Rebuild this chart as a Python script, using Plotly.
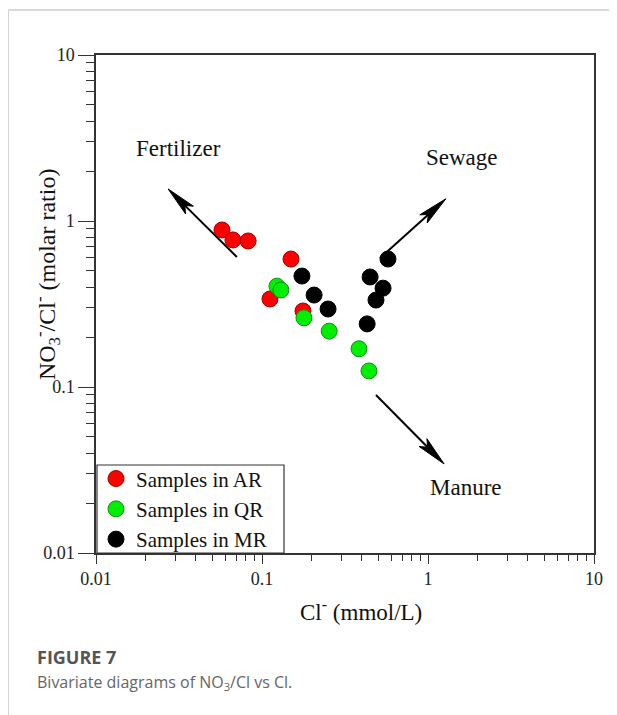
import math
import plotly.graph_objects as go

# ---- data ----
ar_cl = [0.0574, 0.0668, 0.0825, 0.1495, 0.1117, 0.1766]
ar_ratio = [0.883, 0.769, 0.758, 0.590, 0.339, 0.287]

qr_cl = [0.123, 0.130, 0.179, 0.254, 0.384, 0.441]
qr_ratio = [0.405, 0.384, 0.261, 0.217, 0.170, 0.125]

mr_cl = [0.174, 0.206, 0.250, 0.448, 0.536, 0.486, 0.430, 0.574]
mr_ratio = [0.466, 0.358, 0.295, 0.460, 0.394, 0.334, 0.240, 0.590]

major_ticks = [0.01, 0.1, 1, 10]
major_labels = ["0.01", "0.1", "1", "10"]
minor_ticks = [m * d for d in (0.01, 0.1, 1) for m in range(2, 10)]

# source arrows (data units)
arrow_names = ["Fertilizer", "Sewage", "Manure"]
arrow_tail_x = [0.0706, 0.514, 0.486]
arrow_tail_y = [0.607, 0.598, 0.0895]
arrow_head_x = [0.0272, 1.28, 1.25]
arrow_head_y = [1.56, 1.36, 0.0344]
label_x = [0.0312, 1.60, 1.69]
label_y = [2.72, 2.40, 0.0247]

SERIF = "Liberation Serif, Times New Roman, serif"
SANS = "Open Sans, Noto Sans, sans-serif"
PX_PER_DECADE = 166.0
HEAD_LEN = 30.0 / PX_PER_DECADE
HEAD_HALF = 5.5 / PX_PER_DECADE

fig = go.Figure()

# arrows (line + stealth head), built from the arrow lists
for tx, ty, hx, hy in zip(arrow_tail_x, arrow_tail_y, arrow_head_x, arrow_head_y):
    ltx, lty, lhx, lhy = map(math.log10, (tx, ty, hx, hy))
    dx, dy = lhx - ltx, lhy - lty
    n = math.hypot(dx, dy)
    ux, uy = dx / n, dy / n
    nx, ny = -uy, ux
    bx, by = lhx - HEAD_LEN * ux, lhy - HEAD_LEN * uy
    kx, ky = lhx - 0.78 * HEAD_LEN * ux, lhy - 0.78 * HEAD_LEN * uy
    fig.add_trace(go.Scatter(
        x=[10 ** ltx, 10 ** kx], y=[10 ** lty, 10 ** ky], mode="lines",
        line=dict(color="#000", width=2), showlegend=False, hoverinfo="skip",
    ))
    px = [lhx, bx + HEAD_HALF * nx, kx, bx - HEAD_HALF * nx, lhx]
    py = [lhy, by + HEAD_HALF * ny, ky, by - HEAD_HALF * ny, lhy]
    fig.add_trace(go.Scatter(
        x=[10 ** v for v in px], y=[10 ** v for v in py], mode="lines",
        fill="toself", fillcolor="#000", line=dict(color="#000", width=1),
        showlegend=False, hoverinfo="skip",
    ))

series = [
    ("Samples in AR", ar_cl, ar_ratio, "#ff0000", "#a00000"),
    ("Samples in QR", qr_cl, qr_ratio, "#00ee00", "#1a8a1a"),
    ("Samples in MR", mr_cl, mr_ratio, "#000000", "#000000"),
]
for name, xs, ys, fill, edge in series:
    fig.add_trace(go.Scatter(
        x=xs, y=ys, mode="markers", name=name,
        marker=dict(size=16, color=fill, line=dict(color=edge, width=1)),
    ))

annotations = []
for nm, lx, ly in zip(arrow_names, label_x, label_y):
    annotations.append(dict(
        x=math.log10(lx), y=math.log10(ly), xref="x", yref="y",
        xanchor="center", yanchor="middle",
        text=nm, showarrow=False, font=dict(family=SERIF, size=23, color="#111"),
    ))

# axis titles
annotations.append(dict(
    x=0.532, y=-0.1145, xref="paper", yref="paper", showarrow=False,
    xanchor="center", yanchor="middle",
    text="Cl<sup>-</sup> (mmol/L)", font=dict(family=SERIF, size=23, color="#111"),
))
annotations.append(dict(
    x=-0.0984, y=0.56, xref="paper", yref="paper", showarrow=False, textangle=-90,
    xanchor="center", yanchor="middle",
    text="NO<sub>3</sub><sup>-</sup>/Cl<sup>-</sup> (molar ratio)",
    font=dict(family=SERIF, size=24, color="#111"),
))
# caption
annotations.append(dict(
    x=-0.1225, y=-0.2088, xref="paper", yref="paper", showarrow=False,
    xanchor="left", yanchor="middle", text="<b>FIGURE 7</b>",
    font=dict(family=SANS, size=18, color="#555555"),
))
annotations.append(dict(
    x=-0.1225, y=-0.2610, xref="paper", yref="paper", showarrow=False,
    xanchor="left", yanchor="middle",
    text="Bivariate diagrams of NO<sub>3</sub>/Cl vs Cl.",
    font=dict(family=SANS, size=16, color="#666666"),
))

def axis(major_len, minor_len):
    return dict(
        type="log", range=[-2, 1], showgrid=False, zeroline=False,
        showline=True, linecolor="#333", linewidth=1.5, mirror=True,
        ticks="outside", ticklen=major_len, tickwidth=1.3, tickcolor="#333",
        tickvals=major_ticks, ticktext=major_labels,
        tickfont=dict(family=SERIF, size=18, color="#222"),
        minor=dict(tickvals=minor_ticks, ticks="outside", ticklen=minor_len,
                   tickwidth=1.2, tickcolor="#333", showgrid=False),
    )

fig.update_layout(
    width=609, height=707,
    margin=dict(l=88, r=23, t=47, b=162),
    paper_bgcolor="white", plot_bgcolor="white",
    xaxis=axis(9, 6),
    yaxis=axis(16, 8),
    showlegend=True,
    legend=dict(
        x=0.0, y=0.190, xanchor="left", yanchor="top",
        borderwidth=0, bgcolor="rgba(0,0,0,0)",
        font=dict(family=SERIF, size=21, color="#111"),
        tracegroupgap=0,
    ),
    annotations=annotations,
    shapes=[
        dict(type="rect", xref="paper", yref="paper",
             x0=0.002, x1=0.3775, y0=0.0, y1=0.1767,
             line=dict(color="#333", width=1.2)),
        dict(type="line", xref="paper", yref="paper",
             x0=-0.1757, x1=1.05, y0=1.0904, y1=1.0904,
             line=dict(color="#cccccc", width=1.5)),
        dict(type="line", xref="paper", yref="paper",
             x0=-0.1757, x1=-0.1757, y0=1.0904, y1=-0.33,
             line=dict(color="#d5d5d5", width=1)),
    ],
)

fig.write_html("out.html")
